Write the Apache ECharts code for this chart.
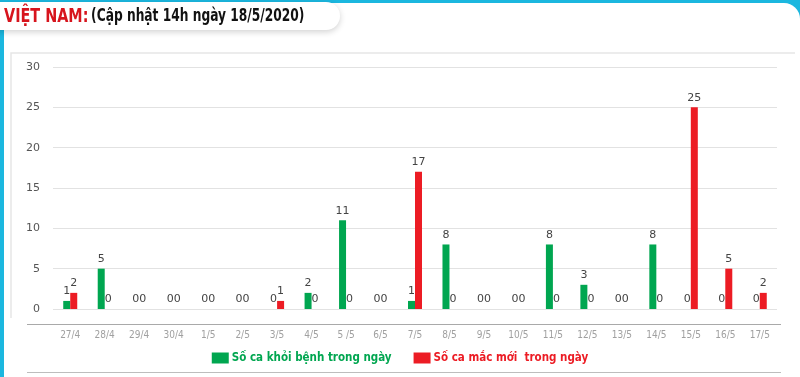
<!DOCTYPE html>
<html>
<head>
<meta charset="utf-8">
<script src="https://cdn.jsdelivr.net/npm/echarts@6/dist/echarts.min.js"></script>
<style>
  html, body { margin: 0; padding: 0; background: #1bb7df; }
  #chart { width: 800px; height: 377px; }
</style>
</head>
<body>
<div id="chart"></div>
<script>
// ngày cập nhật
var days = ['27/4', '28/4', '29/4', '30/4', '1/5', '2/5', '3/5', '4/5', '5 /5', '6/5', '7/5',
            '8/5', '9/5', '10/5', '11/5', '12/5', '13/5', '14/5', '15/5', '16/5', '17/5'];
// số ca khỏi bệnh trong ngày
var recovered = [1, 5, 0, 0, 0, 0, 0, 2, 11, 0, 1, 8, 0, 0, 8, 3, 0, 8, 0, 0, 0];
// số ca mắc mới trong ngày
var newCases = [2, 0, 0, 0, 0, 0, 1, 0, 0, 0, 17, 0, 0, 0, 0, 0, 0, 0, 25, 5, 2];
var yTicks = [0, 5, 10, 15, 20, 25, 30];

var GREEN = '#00a650';
var RED = '#ec1c24';
var narrow = "'DejaVu Sans Condensed', sans-serif";

var chart = echarts.init(document.getElementById('chart'));

var labelStyle = {
    show: true,
    position: 'top',
    distance: 4,
    color: '#444',
    fontSize: 11,
    fontFamily: 'DejaVu Sans'
};

var option = {
    backgroundColor: '#1bb7df',
    animation: false,
    graphic: [
        // tấm nền trắng
        { type: 'rect', z: -10, silent: true,
          shape: { x: 4, y: 3, width: 796, height: 380, r: [0, 16, 0, 0] },
          style: { fill: '#fff' } },
        // hộp tiêu đề
        { type: 'rect', z: -5, silent: true,
          shape: { x: -20, y: 2, width: 360, height: 28, r: 14 },
          style: { fill: '#fff', shadowBlur: 6, shadowColor: 'rgba(0,0,0,0.18)', shadowOffsetY: 2 } },
        // tiêu đề (chữ hẹp)
        { type: 'text', z: 10, silent: true,
          x: 4, y: 17, scaleX: 0.8,
          style: {
              text: '{a|VIỆT NAM:} {b|(Cập nhật 14h ngày 18/5/2020)}',
              verticalAlign: 'middle',
              rich: {
                  a: { fill: '#d7141d', fontSize: 20, fontWeight: 'bold', fontFamily: narrow },
                  b: { fill: '#111', fontSize: 17, fontWeight: 'bold', fontFamily: narrow }
              }
          } },
        // khung biểu đồ
        { type: 'polyline', z: -4, silent: true,
          shape: { points: [[11, 318], [11, 53], [795, 53]] },
          style: { stroke: '#e6e6e6', lineWidth: 1.5, fill: null } },
        // trục ngang
        { type: 'line', silent: true,
          shape: { x1: 27, y1: 324.5, x2: 781, y2: 324.5 },
          style: { stroke: '#a9a9a9', lineWidth: 1 } },
        { type: 'line', silent: true,
          shape: { x1: 27, y1: 372.5, x2: 781, y2: 372.5 },
          style: { stroke: '#bdbdbd', lineWidth: 1 } }
    ],
    legend: {
        bottom: 8,
        left: 'center',
        itemWidth: 17,
        itemHeight: 11,
        itemGap: 22,
        icon: 'rect',
        selectedMode: false,
        data: [
            { name: 'Số ca khỏi bệnh trong ngày', textStyle: { color: GREEN } },
            { name: 'Số ca mắc mới  trong ngày', textStyle: { color: RED } }
        ],
        textStyle: { fontSize: 11.5, fontWeight: 'bold', fontFamily: narrow, padding: [0, 0, 0, -2] }
    },
    grid: { left: 53, right: 23, top: 67, bottom: 68 },
    xAxis: {
        type: 'category',
        data: days,
        offset: 14,
        axisLine: { show: false },
        axisTick: { show: false },
        axisLabel: { color: '#a0a0a0', fontSize: 10, fontFamily: narrow, margin: 7, interval: 0 }
    },
    yAxis: {
        type: 'value',
        min: yTicks[0],
        max: yTicks[yTicks.length - 1],
        interval: yTicks[1] - yTicks[0],
        axisLine: { show: false },
        axisTick: { show: false },
        axisLabel: { color: '#555', fontSize: 11, fontFamily: 'DejaVu Sans', margin: 13 },
        splitLine: { lineStyle: { color: '#e2e2e2', width: 1 } }
    },
    series: [
        {
            name: 'Số ca khỏi bệnh trong ngày',
            type: 'bar',
            data: recovered,
            barWidth: 7,
            barGap: '0%',
            itemStyle: { color: GREEN },
            label: labelStyle
        },
        {
            name: 'Số ca mắc mới  trong ngày',
            type: 'bar',
            data: newCases,
            barWidth: 7,
            itemStyle: { color: RED },
            label: labelStyle
        }
    ]
};

chart.setOption(option);
</script>
</body>
</html>
